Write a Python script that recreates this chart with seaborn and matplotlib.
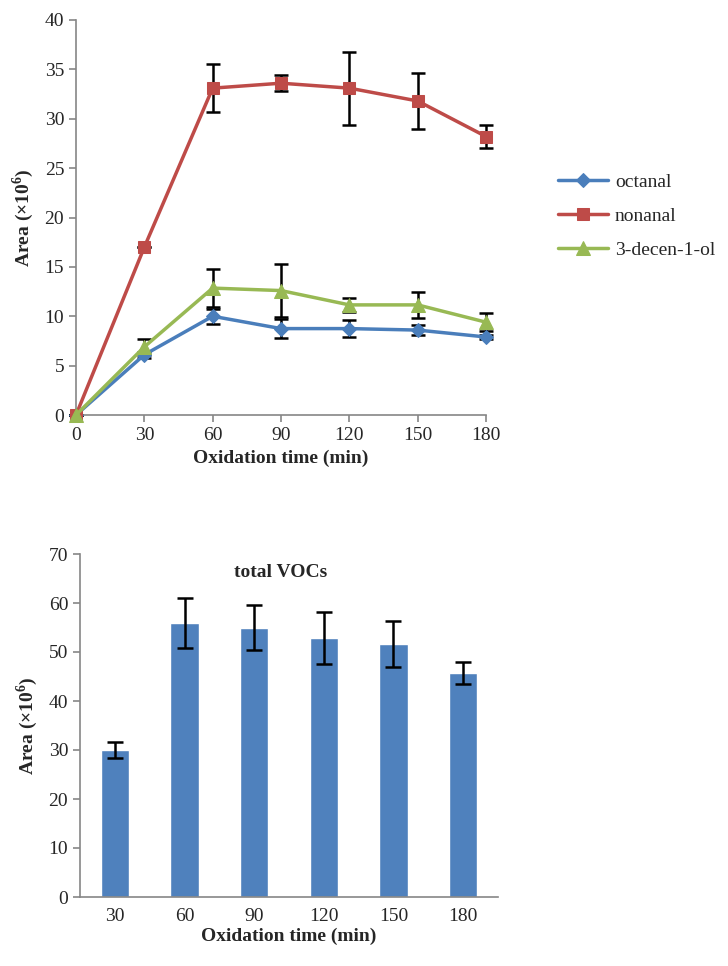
import numpy as np
import pandas as pd
import matplotlib
matplotlib.use('Agg')
import matplotlib.pyplot as plt
import seaborn as sns

# dati
time_min = [0, 30, 60, 90, 120, 150, 180]
octanal = [0, 6.1, 10.0, 8.75, 8.75, 8.6, 7.9]
octanal_err = [0, 0.3, 0.75, 1.0, 0.85, 0.5, 0.2]
nonanal = [0, 17.0, 33.1, 33.6, 33.1, 31.8, 28.2]
nonanal_err = [0, 0, 2.4, 0.8, 3.7, 2.8, 1.2]
decenol = [0, 6.9, 12.85, 12.6, 11.15, 11.15, 9.4]
decenol_err = [0, 0.8, 1.9, 2.7, 0.7, 1.35, 0.9]

bar_labels = ['30', '60', '90', '120', '150', '180']
total_vocs = [30.0, 55.9, 55.0, 52.9, 51.6, 45.7]
total_err = [1.65, 5.05, 4.6, 5.3, 4.65, 2.3]

sns.set_style('white')
plt.rcParams['font.family'] = ['Liberation Serif', 'DejaVu Serif']
plt.rcParams['mathtext.fontset'] = 'custom'
plt.rcParams['mathtext.rm'] = 'Liberation Serif'
plt.rcParams['mathtext.bf'] = 'Liberation Serif:bold'

axis_grey = '#868686'
fs = 14

fig = plt.figure(figsize=(7.28, 9.66), dpi=100)
W, H = 728, 966
ax1 = fig.add_axes([76 / W, 1 - 415 / H, (486 - 76) / W, (415 - 20) / H])
ax2 = fig.add_axes([80 / W, 1 - 897 / H, (498 - 80) / W, (897 - 554) / H])

series = [
    ('octanal', octanal, octanal_err, '#4A7EBB', 'D', 7),
    ('nonanal', nonanal, nonanal_err, '#BE4B48', 's', 9),
    ('3-decen-1-ol', decenol, decenol_err, '#98B954', '^', 10),
]
for name, vals, err, col, mk, ms in series:
    df = pd.DataFrame({'t': time_min, 'v': vals})
    ax1.errorbar(time_min, vals, yerr=err, fmt='none', ecolor='black',
                 elinewidth=1.8, capsize=5, capthick=1.8, zorder=2, clip_on=False)
    sns.lineplot(data=df, x='t', y='v', ax=ax1, color=col, marker=mk,
                 markersize=ms, markeredgecolor=col, linewidth=2.5,
                 label=name, zorder=3, clip_on=False)

ax1.set_xlim(0, 180)
ax1.set_ylim(0, 40)
ax1.set_xticks(time_min)
ax1.set_yticks(np.arange(0, 41, 5))
ax1.set_xlabel('Oxidation time (min)', fontsize=fs, fontweight='bold')
ax1.set_ylabel(r'Area (×10$^{\mathbf{6}}$)', fontsize=fs, fontweight='bold', labelpad=6)
ax1.legend(loc='center left', bbox_to_anchor=(1.132, 0.504), frameon=False,
           fontsize=fs, handlelength=2.6, labelspacing=0.85, handletextpad=0.35)

# barre totali
bdf = pd.DataFrame({'t': bar_labels, 'v': total_vocs})
sns.barplot(data=bdf, x='t', y='v', ax=ax2, color='#4F81BD', saturation=1,
            width=0.41, errorbar=None)
ax2.errorbar(np.arange(len(bar_labels)), total_vocs, yerr=total_err, fmt='none',
             ecolor='black', elinewidth=1.8, capsize=6, capthick=1.8)
ax2.set_xlim(-0.5, 5.5)
ax2.set_ylim(0, 70)
ax2.set_yticks(np.arange(0, 71, 10))
ax2.set_xticks(np.arange(-0.5, 6, 1), minor=True)
ax2.tick_params(axis='x', which='major', length=0, pad=8)
ax2.tick_params(axis='x', which='minor', direction='out', length=5, color=axis_grey, width=1.2)
ax2.set_xlabel('Oxidation time (min)', fontsize=fs, fontweight='bold', labelpad=2)
ax2.set_ylabel(r'Area (×10$^{\mathbf{6}}$)', fontsize=fs, fontweight='bold', labelpad=6)
ax2.text(0.48, 0.97, 'total VOCs', transform=ax2.transAxes, ha='center', va='top',
         fontsize=fs, fontweight='bold')

for ax in (ax1, ax2):
    for s in ('top', 'right'):
        ax.spines[s].set_visible(False)
    for s in ('left', 'bottom'):
        ax.spines[s].set_color(axis_grey)
        ax.spines[s].set_linewidth(1.2)
    ax.tick_params(axis='y', direction='out', length=5, color=axis_grey, width=1.2,
                   labelsize=fs, left=True)
    ax.tick_params(axis='x', labelsize=fs, bottom=True)
ax1.tick_params(axis='x', direction='out', length=5, color=axis_grey, width=1.2)

fig.savefig('out.png', dpi=100)
